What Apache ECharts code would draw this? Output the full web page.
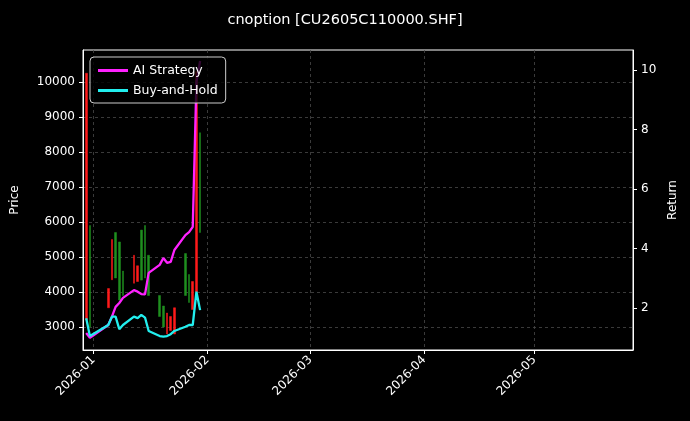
<!DOCTYPE html>
<html><head><meta charset="utf-8">
<script src="https://cdn.jsdelivr.net/npm/echarts@6/dist/echarts.min.js"></script>
<style>html,body{margin:0;background:#000}#c{width:690px;height:421px}</style>
</head><body><div id="c"></div>
<script>
const dates = ['2025-12-30','2025-12-31','2026-01-05','2026-01-06','2026-01-07','2026-01-08','2026-01-09','2026-01-12','2026-01-13','2026-01-14','2026-01-15','2026-01-16','2026-01-19','2026-01-20','2026-01-21','2026-01-22','2026-01-23','2026-01-26','2026-01-27','2026-01-28','2026-01-29','2026-01-30'];
const opens  = [3200,5900,3550,4350,5700,5430,4600,4250,4300,5770,5900,5050,3900,3600,2800,2900,2800,5100,4500,3500,4000,8550];
const closes = [10250,3000,4100,5500,4400,3770,3900,5050,4750,4340,4400,3900,3300,3000,3400,3300,3550,3900,3700,4300,10300,5700];
const aiReturn = [1.16,1.0,1.43,1.71,2.04,2.17,2.34,2.6,2.55,2.47,2.46,3.18,3.45,3.68,3.52,3.55,3.95,4.45,4.55,4.73,9.6,10.3];
const bhReturn = [1.66,1.06,1.43,1.71,1.71,1.29,1.43,1.71,1.66,1.77,1.68,1.23,1.06,1.04,1.06,1.12,1.23,1.37,1.43,1.43,2.55,1.93];
const monthTicks = ['2026-01-01','2026-02-01','2026-03-01','2026-04-01','2026-05-01'];
const priceTicks = [3000,4000,5000,6000,7000,8000,9000,10000];

const ts = d => Date.UTC(+d.slice(0,4), +d.slice(5,7)-1, +d.slice(8,10));
const candles = dates.map((d,i)=>[ts(d), opens[i], closes[i], Math.min(opens[i],closes[i]), Math.max(opens[i],closes[i])]);
const ch = echarts.init(document.getElementById('c'));
const white = '#ffffff';
const grid = {type:[3,3], color:'#4a4a4a', width:0.8};
const mt = monthTicks.map(ts);
ch.setOption({
  backgroundColor:'#000',
  animation:false,
  title:{text:'cnoption [CU2605C110000.SHF]', left:'center', top:8, textStyle:{color:white, fontSize:14.5, fontWeight:'normal', fontFamily:'DejaVu Sans'}},
  legend:{orient:'vertical', left:90, top:57, backgroundColor:'rgba(0,0,0,0.8)', borderColor:'#ccc', borderWidth:1, borderRadius:4, padding:[7,8,6,8], itemGap:7, itemWidth:30, itemHeight:3, icon:'rect',
    textStyle:{color:white, fontSize:12.5, fontFamily:'DejaVu Sans'}, data:['AI Strategy','Buy-and-Hold']},
  grid:{left:83, right:57, top:50, bottom:71, show:true, borderColor:white, borderWidth:1},
  xAxis:{type:'value', min:ts('2025-12-29')+3*3600e3, max:ts('2026-05-27')+20*3600e3,
    axisLine:{lineStyle:{color:white}},
    axisTick:{customValues:mt, lineStyle:{color:white}, length:4},
    axisLabel:{customValues:mt, rotate:45, color:white, fontSize:12, fontFamily:'DejaVu Sans', formatter:v=>{const d=new Date(v);return d.getUTCFullYear()+'-'+String(d.getUTCMonth()+1).padStart(2,'0');}},
    splitLine:{show:true, lineStyle:grid}},
  yAxis:[
    {type:'value', min:2343, max:10914, name:'Price', nameLocation:'middle', nameGap:62, nameTextStyle:{color:white,fontSize:12,fontFamily:'DejaVu Sans'},
      axisLine:{show:true,lineStyle:{color:white}}, axisTick:{show:true,customValues:priceTicks,lineStyle:{color:white},length:4},
      axisLabel:{customValues:priceTicks, formatter:v=>String(v), color:white, fontSize:12, fontFamily:'DejaVu Sans'}, splitLine:{show:true,lineStyle:grid}},
    {type:'value', min:0.59, max:10.67, name:'Return', nameLocation:'middle', nameGap:34, nameTextStyle:{color:white,fontSize:12,fontFamily:'DejaVu Sans'},
      axisLine:{show:true,lineStyle:{color:white}}, axisTick:{show:true,customValues:[2,4,6,8,10],lineStyle:{color:white},length:4},
      axisLabel:{customValues:[2,4,6,8,10], color:white, fontSize:12, fontFamily:'DejaVu Sans'}, splitLine:{show:false}}
  ],
  series:[
    {type:'candlestick', yAxisIndex:0, barWidth:2.2, data:candles,
      itemStyle:{color:'#ff1a1a', color0:'#1f8f1f', borderColor:'#ff1a1a', borderColor0:'#1f8f1f', borderWidth:0.5}},
    {name:'AI Strategy', type:'line', yAxisIndex:1, showSymbol:false, color:'#ff22ff', lineStyle:{width:2.3}, data:dates.map((d,i)=>[ts(d),aiReturn[i]])},
    {name:'Buy-and-Hold', type:'line', yAxisIndex:1, showSymbol:false, color:'#22eeee', lineStyle:{width:2.3}, data:dates.map((d,i)=>[ts(d),bhReturn[i]])}
  ]
});
</script></body></html>
